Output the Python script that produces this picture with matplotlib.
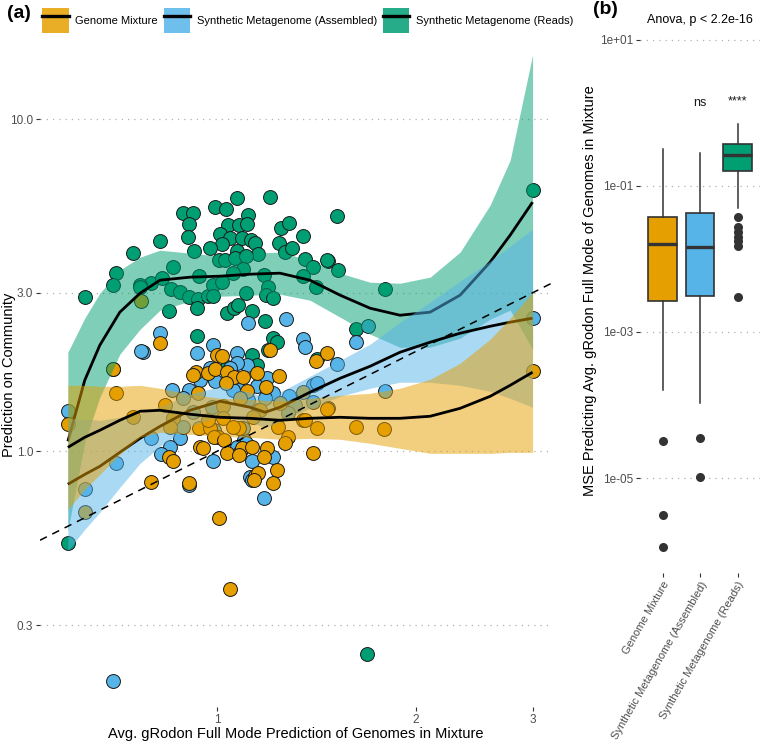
import numpy as np
import matplotlib
matplotlib.use("Agg")
import matplotlib.pyplot as plt
from matplotlib.patches import Patch
from matplotlib.lines import Line2D
from matplotlib.legend_handler import HandlerTuple
from matplotlib.ticker import FixedLocator, NullLocator, FixedFormatter

plt.rcParams['font.family'] = ['Liberation Sans', 'DejaVu Sans']

groups = ["Genome Mixture", "Synthetic Metagenome (Assembled)", "Synthetic Metagenome (Reads)"]
colors = ["#E69F00", "#56B4E9", "#009E73"]

# ---- panel (a) scatter data (x = avg gRodon of genomes, y = prediction on community)
mix_points = [(0.82, 2.115), (1.0, 1.945), (1.018, 1.932), (1.203, 2.015), (1.411, 1.866), (1.467, 1.973),
              (0.93, 1.73), (0.92, 1.694), (0.969, 1.718), (0.993, 1.766), (1.035, 1.73), (1.061, 1.671),
              (1.095, 1.671), (1.149, 1.718), (1.186, 1.558), (1.241, 1.682), (1.032, 1.603), (1.11, 1.516),
              (0.939, 1.173), (0.976, 1.173), (1.08, 1.173), (1.004, 1.102), (0.99, 1.102), (1.025, 1.079),
              (1.416, 1.173), (1.349, 1.24), (1.281, 1.102), (1.267, 1.057), (0.846, 0.959), (0.858, 0.933),
              (0.943, 1.028), (0.952, 1.021), (1.091, 1.021), (1.13, 1.028), (1.19, 1.021), (1.035, 0.986),
              (1.08, 0.973), (1.178, 0.959), (1.397, 0.986), (1.141, 0.841), (1.153, 0.858), (1.232, 0.877),
              (1.215, 0.801), (0.907, 0.801), (0.794, 0.807), (1.137, 0.818), (1.007, 0.628), (1.046, 0.384),
              (0.696, 1.766), (0.703, 1.495), (0.595, 1.206), (0.746, 1.266), (0.631, 0.655), (0.767, 2.83),
              (3.0, 1.742), (1.622, 1.181), (1.788, 1.165), (0.834, 1.376), (0.936, 1.495), (1.021, 1.366),
              (1.083, 1.444), (1.161, 1.329), (1.245, 1.395), (1.349, 1.505), (0.858, 1.257), (0.849, 1.181),
              (1.021, 1.257), (1.057, 1.181), (1.134, 1.266), (1.237, 1.181), (1.359, 1.24), (1.467, 1.338),
              (0.969, 1.24)]

asm_points = [(0.82, 2.267), (0.773, 1.987), (0.986, 2.086), (0.933, 1.973), (1.072, 1.973), (1.349, 2.175),
              (1.359, 2.057), (1.11, 1.816), (0.943, 1.636), (0.976, 1.778), (1.072, 1.84), (1.046, 1.778),
              (1.072, 1.603), (0.993, 1.625), (1.149, 1.569), (1.19, 1.659), (0.855, 1.526), (0.907, 1.526),
              (1.215, 1.495), (1.397, 1.58), (1.416, 1.603), (0.99, 1.157), (0.794, 1.094), (0.879, 1.094),
              (1.099, 1.079), (1.106, 1.057), (0.849, 1.028), (0.823, 0.979), (1.072, 1.028), (1.083, 0.993),
              (1.215, 0.959), (1.13, 0.933), (0.986, 0.933), (1.122, 0.835), (0.907, 0.79), (1.178, 0.722),
              (1.13, 0.818), (0.696, 0.204), (0.595, 1.32), (0.767, 2.001), (0.703, 0.92), (0.631, 0.768),
              (1.114, 2.43), (1.272, 2.5), (1.519, 1.827), (1.285, 1.464), (1.795, 1.516), (3.0, 2.516),
              (1.69, 2.39), (1.62, 2.13), (0.888, 1.444), (0.983, 1.357), (1.057, 1.526), (1.114, 1.424),
              (1.182, 1.444), (1.312, 1.376), (1.472, 1.347), (0.888, 1.181), (0.92, 1.311), (1.095, 1.173),
              (1.153, 1.329), (1.281, 1.302), (1.397, 1.404)]

reads_points = [(1.203, 5.82), (1.072, 5.78), (0.888, 5.21), (0.92, 5.21), (0.993, 5.43), (1.032, 5.36),
                (1.114, 5.14), (0.907, 4.82), (1.039, 4.79), (1.08, 4.79), (1.11, 4.82), (1.25, 4.69),
                (1.285, 4.86), (1.519, 5.11), (1.011, 4.5), (1.046, 4.38), (1.091, 4.38), (1.126, 4.32),
                (1.141, 4.23), (0.904, 4.41), (0.82, 4.29), (1.018, 4.2), (1.241, 4.23), (1.349, 4.44),
                (0.976, 4.09), (0.923, 4.0), (1.072, 4.0), (1.153, 3.92), (1.267, 3.97), (1.298, 4.09),
                (1.007, 3.76), (1.028, 3.76), (1.065, 3.81), (1.106, 3.87), (1.095, 3.53), (0.858, 3.58),
                (1.359, 3.78), (1.397, 3.58), (1.472, 3.73), (0.794, 3.21), (0.826, 3.32), (0.939, 3.37),
                (1.057, 3.44), (1.178, 3.39), (1.349, 3.37), (1.411, 3.12), (0.852, 3.07), (0.879, 3.01),
                (0.907, 2.91), (0.936, 2.87), (0.969, 2.93), (0.986, 3.16), (1.018, 3.23), (0.986, 2.93),
                (1.106, 2.99), (1.194, 3.12), (1.186, 2.95), (1.215, 2.89), (0.933, 2.7), (0.846, 2.64),
                (1.035, 2.6), (1.061, 2.7), (1.076, 2.75), (1.13, 2.64), (1.182, 2.46), (0.933, 2.22),
                (1.215, 2.2), (0.703, 3.44), (0.696, 3.16), (0.631, 2.91), (0.765, 3.16), (0.696, 1.77),
                (0.595, 0.528), (3.0, 6.11), (1.467, 3.76), (1.525, 3.51), (1.795, 3.07), (1.622, 2.33),
                (0.746, 3.95), (0.765, 3.12), (1.194, 2.02), (1.416, 1.9), (1.13, 1.945), (1.035, 1.79),
                (1.232, 2.13), (1.149, 1.816), (1.686, 0.246)]

# ---- smooth fits: x, fit, lower, upper
mix_curve_x = [0.595, 0.631, 0.665, 0.713, 0.765, 0.82, 0.91, 1.011, 1.122, 1.245, 1.382, 1.535, 1.704, 1.891, 2.1, 2.331, 2.588, 2.775, 3.0]
mix_fit = [1.028, 1.102, 1.157, 1.24, 1.32, 1.329, 1.293, 1.266, 1.257, 1.24, 1.257, 1.266, 1.257, 1.257, 1.275, 1.347, 1.464, 1.58, 1.73]
mix_lo = [0.669, 0.768, 0.852, 0.979, 1.102, 1.141, 1.125, 1.11, 1.102, 1.087, 1.094, 1.087, 1.057, 1.021, 0.986, 0.986, 0.986, 0.993, 0.993]
mix_hi = [1.58, 1.58, 1.569, 1.569, 1.58, 1.548, 1.484, 1.444, 1.434, 1.415, 1.444, 1.474, 1.495, 1.548, 1.647, 1.841, 2.175, 2.516, 3.012]

asm_curve_x = [0.595, 0.631, 0.665, 0.713, 0.765, 0.82, 0.91, 1.011, 1.122, 1.182, 1.245, 1.382, 1.535, 1.704, 1.891, 2.1, 2.331, 2.588, 2.775, 3.0]
asm_fit = [0.796, 0.852, 0.901, 0.993, 1.094, 1.189, 1.329, 1.415, 1.357, 1.311, 1.357, 1.506, 1.659, 1.803, 1.987, 2.13, 2.267, 2.379, 2.447, 2.516]
asm_lo = [0.503, 0.582, 0.655, 0.779, 0.92, 1.035, 1.189, 1.275, 1.223, 1.181, 1.223, 1.347, 1.464, 1.548, 1.614, 1.614, 1.58, 1.516, 1.444, 1.357]
asm_hi = [1.257, 1.249, 1.24, 1.266, 1.302, 1.366, 1.484, 1.569, 1.506, 1.454, 1.506, 1.682, 1.879, 2.101, 2.447, 2.811, 3.251, 3.736, 4.144, 4.664]

reads_curve_x = [0.595, 0.631, 0.665, 0.713, 0.765, 0.82, 0.91, 1.011, 1.122, 1.245, 1.382, 1.535, 1.704, 1.891, 2.1, 2.331, 2.588, 2.775, 3.0]
reads_fit = [1.072, 1.636, 2.086, 2.623, 2.991, 3.274, 3.343, 3.366, 3.413, 3.437, 3.274, 2.951, 2.696, 2.568, 2.623, 2.951, 3.71, 4.473, 5.623]
reads_lo = [0.578, 1.064, 1.455, 1.96, 2.33, 2.659, 2.831, 2.929, 2.951, 2.971, 2.85, 2.534, 2.252, 2.057, 2.058, 2.19, 2.499, 2.661, 2.028]
reads_hi = [1.987, 2.516, 2.991, 3.51, 3.84, 4.031, 3.948, 3.868, 3.948, 3.976, 3.761, 3.437, 3.228, 3.206, 3.343, 3.976, 5.508, 7.52, 15.59]

# ---- panel (b) box statistics (MSE)
box_labels = groups
box_q1 = [0.00266, 0.00311, 0.160]
box_med = [0.0160, 0.0146, 0.266]
box_q3 = [0.0376, 0.0427, 0.376]
box_whislo = [1.60e-4, 1.05e-4, 0.050]
box_whishi = [0.321, 0.283, 0.706]
box_fliers = [[3.2e-5, 3.1e-6, 1.15e-6],
              [3.5e-5, 1.03e-5],
              [0.0376, 0.0274, 0.0234, 0.0200, 0.0176, 0.0151, 0.0030]]
sig_labels = ["", "ns", "****"]

W, H = 760, 744
fig = plt.figure(figsize=(W / 100, H / 100), dpi=100)

# ---------------- panel (a)
axa = fig.add_axes([40 / W, 1 - 707 / H, 512 / W, 665 / H])
axa.set_xscale('log')
axa.set_yscale('log')
axa.set_xlim(0.54, 3.21)
axa.set_ylim(0.170, 17.06)

point_sets = [mix_points, asm_points, reads_points]
curves = [(mix_curve_x, mix_fit, mix_lo, mix_hi),
          (asm_curve_x, asm_fit, asm_lo, asm_hi),
          (reads_curve_x, reads_fit, reads_lo, reads_hi)]

z = 2
for i in [2, 1, 0]:
    px, py = zip(*point_sets[i])
    axa.scatter(px, py, s=100, c=colors[i], edgecolors='#1a1a1a', linewidths=0.7, zorder=z)
    z += 0.1
z = 3
for i in [2, 1, 0]:
    cx, cf, clo, chi = curves[i]
    axa.fill_between(cx, clo, chi, color=colors[i], alpha=0.5, lw=0, zorder=z)
    axa.plot(cx, cf, color='black', lw=2.0, zorder=z + 0.05, solid_capstyle='butt')
    z += 0.1
axa.axline((1, 1), (2, 2), color='black', lw=1.1, ls=(0, (5, 4)), zorder=5)

axa.xaxis.set_major_locator(FixedLocator([1, 2, 3]))
axa.xaxis.set_major_formatter(FixedFormatter(['1', '2', '3']))
axa.xaxis.set_minor_locator(NullLocator())
axa.yaxis.set_major_locator(FixedLocator([0.3, 1.0, 3.0, 10.0]))
axa.yaxis.set_major_formatter(FixedFormatter(['0.3', '1.0', '3.0', '10.0']))
axa.yaxis.set_minor_locator(NullLocator())
axa.yaxis.grid(True, linestyle=(0, (1, 4)), color='#B0B0B0', lw=0.9, zorder=0)
axa.set_axisbelow(True)
for s in axa.spines.values():
    s.set_visible(False)
axa.tick_params(length=3, width=0.8, color='#333333', labelcolor='#4D4D4D', labelsize=8.5, pad=2)
axa.set_xlabel("Avg. gRodon Full Mode Prediction of Genomes in Mixture", fontsize=10.5, labelpad=1)
axa.set_ylabel("Prediction on Community", fontsize=10.5)
axa.yaxis.set_label_coords(-0.046, 0.5)

# legend
handles = [(Patch(facecolor=c, edgecolor='none', alpha=0.85), Line2D([], [], color='black', lw=2.4))
           for c in colors]
fig.legend(handles, groups, loc='center left', bbox_to_anchor=(42 / W, 1 - 20.5 / H), ncol=3, frameon=False,
           handler_map={tuple: HandlerTuple(ndivide=1)}, handlelength=2.4, handleheight=3.2,
           handletextpad=0.6, columnspacing=0.5, borderpad=0, borderaxespad=0, fontsize=8)
fig.text(7 / W, 1 - 13 / H, "(a)", fontsize=14, fontweight='bold', va='center', ha='left')

# ---------------- panel (b)
axb = fig.add_axes([640 / W, 1 - 573 / H, 120 / W, 565 / H])
axb.set_yscale('log')
stats = []
for k in range(3):
    stats.append(dict(med=box_med[k], q1=box_q1[k], q3=box_q3[k], whislo=box_whislo[k],
                      whishi=box_whishi[k], fliers=box_fliers[k], label=box_labels[k]))
bp = axb.bxp(stats, positions=[1, 2, 3], widths=0.75, patch_artist=True, showcaps=False,
             boxprops=dict(edgecolor='#333333', linewidth=1.2),
             medianprops=dict(color='#333333', linewidth=2.4),
             whiskerprops=dict(color='#333333', linewidth=1.1),
             flierprops=dict(marker='o', markerfacecolor='#333333', markeredgecolor='#333333',
                             markersize=5.5))
for patch, c in zip(bp['boxes'], colors):
    patch.set_facecolor(c)
axb.set_xlim(0.4, 3.6)
axb.set_ylim(5.0e-7, 27.4)
axb.yaxis.set_major_locator(FixedLocator([1e-5, 1e-3, 1e-1, 1e1]))
axb.yaxis.set_major_formatter(FixedFormatter(['1e-05', '1e-03', '1e-01', '1e+01']))
axb.yaxis.set_minor_locator(NullLocator())
axb.yaxis.grid(True, linestyle=(0, (1, 4)), color='#B0B0B0', lw=0.9, zorder=0)
axb.set_axisbelow(True)
for s in axb.spines.values():
    s.set_visible(False)
axb.tick_params(length=3, width=0.8, color='#333333', labelcolor='#4D4D4D', labelsize=8.5, pad=2)
axb.set_xticks([1, 2, 3])
axb.set_xticklabels(box_labels, rotation=60, ha='right', va='top', rotation_mode='anchor', fontsize=8)
axb.set_ylabel("MSE Predicting Avg. gRodon Full Mode of Genomes in Mixture", fontsize=10.5)
axb.yaxis.set_label_coords(-0.36, 0.5)
for k, lab in enumerate(sig_labels):
    if lab:
        yv = 1.37 if lab == 'ns' else 1.45
        axb.text(k + 1, yv, lab, ha='center', va='center', fontsize=9, color='#1a1a1a')
fig.text(700 / W, 1 - 20 / H, "Anova, p < 2.2e-16", ha='center', va='center', fontsize=9)
fig.text(593 / W, 1 - 10 / H, "(b)", fontsize=14, fontweight='bold', va='center', ha='left')

fig.savefig("out.png", dpi=100)
